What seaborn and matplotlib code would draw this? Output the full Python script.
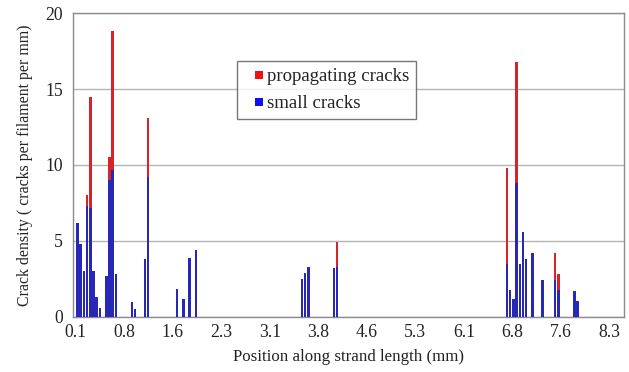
import matplotlib
matplotlib.use("Agg")
import matplotlib.pyplot as plt
from matplotlib.lines import Line2D
import pandas as pd
import seaborn as sns

# Crack counts along the strand, sampled on a 0.05 mm grid (only non-empty slots listed)
position_mm = [0.15, 0.20, 0.25, 0.30, 0.35, 0.40, 0.45, 0.50, 0.60, 0.65, 0.70, 0.75,
               1.00, 1.05, 1.20, 1.25, 1.70, 1.80, 1.90, 2.00,
               3.65, 3.70, 3.75, 4.15, 4.20,
               6.85, 6.90, 6.95, 7.00, 7.05, 7.10, 7.15, 7.25, 7.40, 7.60, 7.65, 7.90, 7.95]
small_cracks = [6.2, 4.8, 3.0, 7.3, 7.2, 3.0, 1.3, 0.6, 2.7, 9.0, 9.7, 2.8,
                1.0, 0.5, 3.8, 9.2, 1.85, 1.2, 3.85, 4.4,
                2.5, 2.9, 3.3, 3.2, 3.3,
                3.5, 1.75, 1.15, 8.8, 3.5, 5.6, 3.8, 4.2, 2.4, 2.45, 1.8, 1.7, 1.05]
propagating_cracks = [0.0, 0.0, 0.0, 0.7, 7.3, 0.0, 0.0, 0.0, 0.0, 1.5, 9.1, 0.0,
                      0.0, 0.0, 0.0, 3.9, 0.0, 0.0, 0.0, 0.0,
                      0.0, 0.0, 0.0, 0.0, 1.6,
                      6.3, 0.0, 0.0, 8.0, 0.0, 0.0, 0.0, 0.0, 0.0, 1.75, 1.0, 0.0, 0.0]

tick_labels = ["0.1", "0.8", "1.6", "2.3", "3.1", "3.8", "4.6", "5.3", "6.1", "6.8", "7.6", "8.3"]

df = pd.DataFrame({"position": position_mm,
                   "small": small_cracks,
                   "propagating": propagating_cracks})
df["total"] = df["small"] + df["propagating"]

RED = "#d8232a"
BLUE = "#2727b8"

sns.set_theme(style="white")
plt.rcParams["font.family"] = ["Liberation Serif", "DejaVu Serif"]

fig = plt.figure(figsize=(6.29, 3.72), dpi=100)
ax = fig.add_axes([0.1156, 0.148, 0.8764, 0.817])

# stacked bars: full height in red, the small-crack share drawn over it in blue
sns.barplot(data=df, x="position", y="total", native_scale=True, color=RED,
            saturation=1, errorbar=None, width=0.8, ax=ax, zorder=3)
sns.barplot(data=df, x="position", y="small", native_scale=True, color=BLUE,
            saturation=1, errorbar=None, width=0.8, ax=ax, zorder=4)
for p in ax.patches:
    p.set_edgecolor("none")

grid_step = 0.05
n_slots = 172
ax.set_xlim(0.1 - grid_step / 2, 0.1 + grid_step * (n_slots - 0.5))
ax.set_ylim(0, 20)

label_start, label_step = 0.1185, 0.7575
ax.set_xticks([label_start + label_step * k for k in range(len(tick_labels))])
ax.set_xticklabels(tick_labels, fontsize=12.7, color="#222222")
ax.set_xticks([0.1 - grid_step / 2 + 4 * grid_step * k for k in range(44)], minor=True)
ax.tick_params(axis="x", which="major", length=0, pad=5)
ax.tick_params(axis="x", which="minor", length=4, width=0.8, color="#999999", direction="out")

ax.set_yticks([0, 5, 10, 15, 20])
ax.set_yticklabels(["0", "5", "10", "15", "20"], fontsize=12.7, color="#222222")
ax.tick_params(axis="y", length=0, pad=7)

ax.yaxis.grid(True, color="#b4b4b4", linewidth=1.0, zorder=0)
ax.set_axisbelow(True)
for s in ax.spines.values():
    s.set_color("#8c8c8c")
    s.set_linewidth(1.0)

ax.set_xlabel("Position along strand length (mm)", fontsize=12.2, color="#222222", labelpad=6)
ax.set_ylabel("Crack density ( cracks per filament per mm)", fontsize=11.4, color="#222222", labelpad=9)

handles = [Line2D([], [], linestyle="none", marker="s", markersize=6, markeredgewidth=0,
                  markerfacecolor="#ee1111", label="propagating cracks"),
           Line2D([], [], linestyle="none", marker="s", markersize=6, markeredgewidth=0,
                  markerfacecolor="#1111ee", label="small cracks")]
leg = ax.legend(handles=handles, loc="upper left", bbox_to_anchor=(0.298, 0.842),
                frameon=True, fancybox=False, fontsize=13.5, handlelength=1.6,
                handletextpad=-0.39, labelspacing=0.52, borderpad=0.38, borderaxespad=0)
leg.get_frame().set_edgecolor("#555555")
leg.get_frame().set_linewidth(1.0)
for t in leg.get_texts():
    t.set_color("#222222")

fig.savefig("out.png", dpi=100)
